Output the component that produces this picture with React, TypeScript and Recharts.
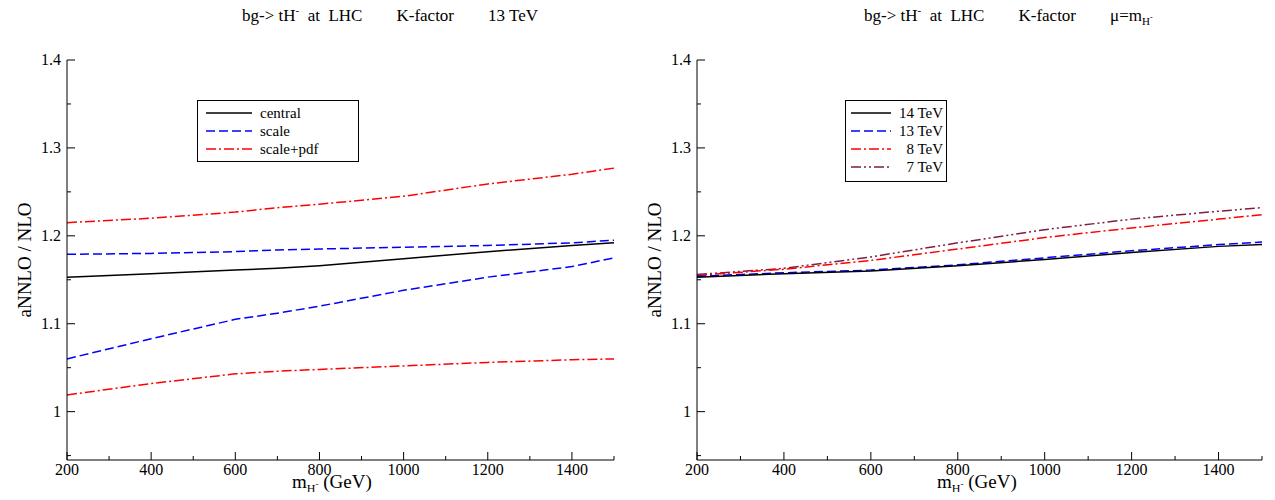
import { LineChart, Line, XAxis, YAxis } from "recharts";

const massLeft = [200, 400, 600, 700, 800, 1000, 1200, 1400, 1500];
const central = [1.153, 1.157, 1.161, 1.163, 1.166, 1.174, 1.182, 1.189, 1.192];
const scaleUp = [1.179, 1.18, 1.182, 1.184, 1.185, 1.187, 1.189, 1.192, 1.195];
const scaleDn = [1.06, 1.083, 1.105, 1.112, 1.12, 1.138, 1.153, 1.165, 1.175];
const pdfUp = [1.215, 1.22, 1.227, 1.232, 1.236, 1.245, 1.259, 1.27, 1.277];
const pdfDn = [1.019, 1.032, 1.043, 1.046, 1.048, 1.052, 1.056, 1.059, 1.06];

const massRight = [200, 400, 600, 800, 1000, 1200, 1400, 1500];
const tev14 = [1.153, 1.157, 1.16, 1.166, 1.173, 1.181, 1.188, 1.19];
const tev13 = [1.154, 1.158, 1.161, 1.167, 1.175, 1.183, 1.19, 1.193];
const tev8 = [1.155, 1.162, 1.172, 1.185, 1.198, 1.209, 1.219, 1.224];
const tev7 = [1.156, 1.163, 1.176, 1.192, 1.207, 1.219, 1.228, 1.232];

const xTicks = [200, 300, 400, 500, 600, 700, 800, 900, 1000, 1100, 1200, 1300, 1400, 1500];
const yTicks = [0.95, 1, 1.05, 1.1, 1.15, 1.2, 1.25, 1.3, 1.35, 1.4];
const xLabels = [200, 400, 600, 800, 1000, 1200, 1400];
const yLabels = [1, 1.1, 1.2, 1.3, 1.4];

const leftData = massLeft.map((m, i) => ({
  m, central: central[i], scaleUp: scaleUp[i], scaleDn: scaleDn[i], pdfUp: pdfUp[i], pdfDn: pdfDn[i],
}));
const rightData = massRight.map((m, i) => ({
  m, t14: tev14[i], t13: tev13[i], t8: tev8[i], t7: tev7[i],
}));

const font = "'Liberation Serif', 'DejaVu Serif', serif";

const near = (v: number, list: number[]) => list.some((l) => Math.abs(l - v) < 1e-6);

function BottomTick(props: any) {
  const { x, y, payload } = props;
  const major = near(payload.value, xLabels);
  return (
    <g>
      <line x1={x} y1={y} x2={x} y2={y - (major ? 8 : 4)} stroke="#000" />
      {major && (
        <text x={x} y={y + 15} textAnchor="middle" fontFamily={font} fontSize={16} fill="#000">
          {payload.value}
        </text>
      )}
    </g>
  );
}
function TopTick(props: any) {
  const { x, y, payload } = props;
  const major = near(payload.value, xLabels);
  return <line x1={x} y1={y} x2={x} y2={y + (major ? 8 : 4)} stroke="#000" />;
}
function LeftTick(props: any) {
  const { x, y, payload } = props;
  const major = near(payload.value, yLabels);
  return (
    <g>
      <line x1={x} y1={y} x2={x + (major ? 8 : 4)} y2={y} stroke="#000" />
      {major && (
        <text x={x - 6} y={y + 5} textAnchor="end" fontFamily={font} fontSize={16} fill="#000">
          {payload.value}
        </text>
      )}
    </g>
  );
}
function RightTick(props: any) {
  const { x, y, payload } = props;
  const major = near(payload.value, yLabels);
  return <line x1={x} y1={y} x2={x - (major ? 8 : 4)} y2={y} stroke="#000" />;
}

function Axes() {
  const common = { tickSize: 0, tickMargin: 0, tickLine: false, axisLine: { stroke: "#000" }, interval: 0 as const };
  return [
    <XAxis key="x" dataKey="m" type="number" domain={[200, 1500]} ticks={xTicks}
      height={40} tick={<BottomTick />} {...common} />,
    <XAxis key="xt" xAxisId="top" orientation="top" dataKey="m" type="number" domain={[200, 1500]}
      ticks={xTicks} height={0} tick={<TopTick />} {...common} />,
    <YAxis key="y" type="number" domain={[0.945, 1.4]} ticks={yTicks} width={40}
      tick={<LeftTick />} allowDataOverflow {...common} />,
    <YAxis key="yr" yAxisId="right" orientation="right" type="number" domain={[0.945, 1.4]}
      ticks={yTicks} width={0} tick={<RightTick />} allowDataOverflow {...common} />,
  ];
}

function Title({ left, children }: { left: number; children: any }) {
  return (
    <div style={{ position: "absolute", left, top: 4, fontFamily: font, fontSize: 17, whiteSpace: "pre" }}>
      {children}
    </div>
  );
}

function XLabel({ left }: { left: number }) {
  return (
    <div style={{ position: "absolute", left, top: 472, fontFamily: font, fontSize: 19, lineHeight: "20px", whiteSpace: "nowrap" }}>
      m<span style={{ fontSize: 12, position: "relative", top: 5 }}>H<span style={{ fontSize: 9, position: "relative", top: -6 }}>-</span></span> (GeV)
    </div>
  );
}

function YLabel({ left }: { left: number }) {
  return (
    <div style={{ position: "absolute", left, top: 260, fontFamily: font, fontSize: 19,
      transform: "translate(-50%, -50%) rotate(-90deg)", whiteSpace: "nowrap" }}>
      aNNLO / NLO
    </div>
  );
}

function LegendRow({ color, dash, label, w = 50 }: { color: string; dash?: string; label: string; w?: number }) {
  return (
    <div style={{ display: "flex", alignItems: "center", height: 18, whiteSpace: "pre" }}>
      <svg width={w} height={10} style={{ marginRight: 6, flexShrink: 0 }}>
        <line x1={2} y1={5} x2={w - 2} y2={5} stroke={color} strokeWidth={1.5} strokeDasharray={dash} />
      </svg>
      <span>{label}</span>
    </div>
  );
}

export default function App() {
  const line = (key: string, color: string, dash?: string) => (
    <Line key={key} dataKey={key} stroke={color} strokeWidth={1.5} strokeDasharray={dash}
      dot={false} isAnimationActive={false} type="linear" />
  );
  return (
    <div style={{ position: "relative", width: 1275, height: 500, margin: -8, background: "#fff" }}>
      <Title left={242}>{"bg-> tH"}<sup style={{ fontSize: 11 }}>-</sup>{"  at  LHC        K-factor        13 TeV"}</Title>
      <Title left={864}>{"bg-> tH"}<sup style={{ fontSize: 11 }}>-</sup>{"  at  LHC        K-factor        μ=m"}<sub style={{ fontSize: 11 }}>H<sup style={{ fontSize: 8 }}>-</sup></sub></Title>

      <div style={{ position: "absolute", left: 0, top: 0 }}>
        <LineChart width={640} height={500} data={leftData} margin={{ top: 60, right: 26, bottom: 0, left: 27 }}>
          {Axes()}
          {line("central", "#000")}
          {line("scaleUp", "#0000ff", "9 4")}
          {line("scaleDn", "#0000ff", "9 4")}
          {line("pdfUp", "#ff0000", "10 3 2 3")}
          {line("pdfDn", "#ff0000", "10 3 2 3")}
        </LineChart>
      </div>

      <div style={{ position: "absolute", left: 650, top: 0 }}>
        <LineChart width={625} height={500} data={rightData} margin={{ top: 60, right: 13, bottom: 0, left: 7 }}>
          {Axes()}
          {line("t7", "#7f1f3f", "10 3 2 3 2 3")}
          {line("t8", "#ff0000", "10 3 2 3")}
          {line("t13", "#0000ff", "9 4")}
          {line("t14", "#000")}
        </LineChart>
      </div>

      <YLabel left={25} />
      <YLabel left={655} />
      <XLabel left={292} />
      <XLabel left={937} />

      <div style={{ position: "absolute", left: 197, top: 100, width: 162, height: 62, border: "1px solid #000",
        fontFamily: font, fontSize: 15, padding: "3px 0 0 6px", boxSizing: "border-box" }}>
        <LegendRow color="#000" label="central" />
        <LegendRow color="#0000ff" dash="9 4" label="scale" />
        <LegendRow color="#ff0000" dash="10 3 2 3" label="scale+pdf" />
      </div>

      <div style={{ position: "absolute", left: 845, top: 100, width: 102, height: 82, border: "1px solid #000",
        fontFamily: font, fontSize: 15, padding: "3px 0 0 3px", boxSizing: "border-box" }}>
        <LegendRow w={44} color="#000" label="14 TeV" />
        <LegendRow w={44} color="#0000ff" dash="9 4" label="13 TeV" />
        <LegendRow w={44} color="#ff0000" dash="10 3 2 3" label="  8 TeV" />
        <LegendRow w={44} color="#7f1f3f" dash="10 3 2 3 2 3" label="  7 TeV" />
      </div>
    </div>
  );
}
